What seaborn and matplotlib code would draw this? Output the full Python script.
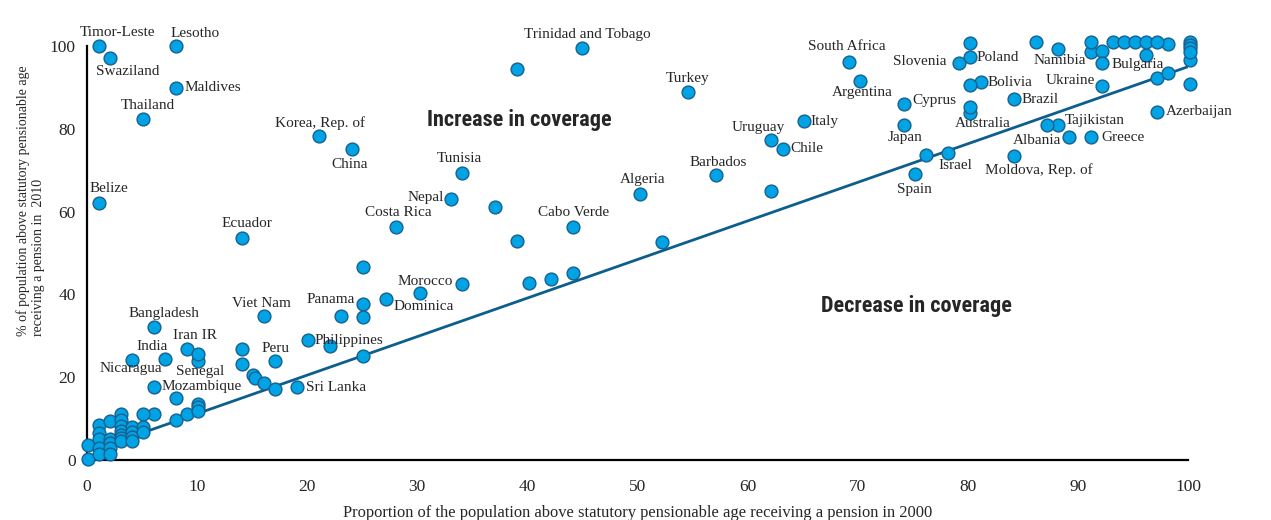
import matplotlib
matplotlib.use("Agg")
import matplotlib.pyplot as plt
import seaborn as sns
import pandas as pd

# ---------------- data ----------------
countries = [
    "Timor-Leste", "Swaziland", "Lesotho", "Maldives", "Thailand", "Belize", "Ecuador",
    "Korea, Rep. of", "China", "Tunisia", "Nepal", "Costa Rica", "Trinidad and Tobago",
    "Turkey", "Cabo Verde", "Algeria", "Barbados", "Uruguay", "Chile", "Italy", "Morocco",
    "Dominica", "Panama", "Viet Nam", "Bangladesh", "Iran IR", "India", "Nicaragua",
    "Senegal", "Mozambique", "Peru", "Philippines", "Sri Lanka", "South Africa",
    "Argentina", "Mongolia", "Poland", "Slovenia", "Bolivia", "Cyprus", "Japan",
    "Australia", "Brazil", "Kyrgyzstan", "Namibia", "Bulgaria", "Ukraine",
    "United Kingdom", "France", "Kazakhstan", "Luxembourg", "Azerbaijan", "Tajikistan",
    "Albania", "Greece", "Moldova, Rep. of", "Israel", "Spain",
]
coverage_2000 = [
    1.1, 2.1, 8.1, 8.1, 5.1, 1.1, 14.1,
    21.1, 24.1, 34.1, 33.1, 28.1, 45.0,
    54.6, 44.1, 50.2, 57.1, 62.1, 63.2, 65.1, 34.1,
    30.2, 25.1, 16.1, 6.1, 9.1, 7.1, 4.1,
    10.1, 6.1, 17.1, 20.1, 19.1, 69.2,
    70.2, 80.2, 80.2, 79.2, 81.2, 74.2, 74.2,
    80.2, 84.2, 86.2, 88.2, 96.2, 92.2,
    98.2, 100.2, 100.2, 100.2, 97.2, 88.2,
    89.2, 91.2, 84.2, 78.2, 75.2,
]
coverage_2010 = [
    100.0, 97.1, 100.0, 89.9, 82.4, 62.1, 53.6,
    78.3, 75.1, 69.3, 63.0, 56.3, 99.5,
    88.9, 56.3, 64.2, 68.8, 77.3, 75.2, 81.9, 42.4,
    40.4, 37.8, 34.9, 32.1, 26.7, 24.5, 24.2,
    24.0, 17.7, 24.0, 29.0, 17.6, 96.2,
    91.6, 100.8, 97.3, 96.0, 91.2, 86.0, 81.0,
    83.7, 87.1, 100.9, 99.3, 97.8, 90.3,
    100.5, 101.0, 96.6, 90.8, 84.1, 81.0,
    77.9, 78.1, 73.5, 74.2, 69.0,
]

# unlabelled countries
other_2000 = [
    39.1, 37.1, 39.1, 52.2, 62.1, 27.2, 40.1, 42.1, 44.1, 25.1, 23.1, 25.1,
    10.1, 8.1, 10.1, 14.1, 14.1, 22.1, 25.1, 15.1, 15.3, 16.1, 17.1,
    8.1, 9.1, 10.1, 10.1, 6.1,
    0.05, 0.05, 1.1, 1.1, 1.1, 1.1, 1.1, 2.1, 2.1, 2.1, 2.1, 2.1,
    3.1, 3.1, 3.1, 3.1, 3.1, 3.1, 3.1, 4.1, 4.1, 4.1, 4.1, 5.1, 5.1, 5.1,
    91.2, 91.2, 92.2, 92.2, 93.2, 94.2, 95.2, 96.2, 97.2,
    100.2, 100.2, 100.2, 80.2, 80.2, 87.2, 97.2, 98.2, 76.2,
]
other_2010 = [
    94.4, 61.1, 52.9, 52.7, 65.0, 39.0, 42.7, 43.8, 45.2, 34.5, 34.9, 46.7,
    25.7, 14.9, 13.6, 26.9, 23.3, 27.5, 25.1, 20.5, 19.8, 18.5, 17.1,
    9.6, 11.0, 12.7, 11.9, 11.2,
    0.3, 3.6, 8.5, 6.5, 5.0, 3.0, 1.5, 9.3, 5.0, 4.0, 2.8, 1.5,
    11.1, 9.7, 8.1, 6.9, 6.1, 5.3, 4.5, 8.0, 6.8, 5.6, 4.6, 11.1, 8.0, 6.8,
    98.6, 101.0, 98.9, 96.0, 100.9, 100.9, 100.9, 100.9, 100.9,
    100.2, 99.4, 98.6, 90.6, 85.2, 80.8, 92.2, 93.4, 73.7,
]

trend_x = [1, 100]
trend_y = [2.8, 95.0]

x_ticks = [0, 10, 20, 30, 40, 50, 60, 70, 80, 90, 100]
y_ticks = [0, 20, 40, 60, 80, 100]

# ---------------- label layout (pixel offsets, ha) ----------------
label_layout = {
    "Timor-Leste": (18, 14, "center"), "Swaziland": (18, -13, "center"),
    "Lesotho": (19, 13, "center"), "Maldives": (8, 0, "left"),
    "Thailand": (5, 13, "center"), "Belize": (10, 14, "center"),
    "Ecuador": (5, 15, "center"), "Korea, Rep. of": (1, 13, "center"),
    "China": (-3, -15, "center"), "Tunisia": (-3, 15, "center"),
    "Nepal": (-8, 2, "right"), "Costa Rica": (2, 14, "center"),
    "Trinidad and Tobago": (5, 14, "center"), "Turkey": (-1, 13, "center"),
    "Cabo Verde": (1, 14, "center"), "Algeria": (3, 15, "center"),
    "Barbados": (3, 13, "center"), "Uruguay": (-12, 12, "center"),
    "Chile": (8, 0, "left"), "Italy": (7, -1, "left"),
    "Morocco": (-10, 3, "right"), "Dominica": (4, -14, "center"),
    "Panama": (-8, 4, "right"), "Viet Nam": (-3, 12, "center"),
    "Bangladesh": (10, 14, "center"), "Iran IR": (8, 14, "center"),
    "India": (-13, 12, "center"), "Nicaragua": (-1, -9, "center"),
    "Senegal": (2, -11, "center"), "Mozambique": (7, 0, "left"),
    "Peru": (0, 12, "center"), "Philippines": (6, -1, "left"),
    "Sri Lanka": (9, 0, "left"), "South Africa": (-2, 15, "center"),
    "Argentina": (2, -12, "center"), "Mongolia": (3, 15, "center"),
    "Poland": (7, 0, "left"), "Slovenia": (-12, 1, "right"),
    "Bolivia": (7, 0, "left"), "Cyprus": (8, 3, "left"),
    "Japan": (1, -13, "center"), "Australia": (13, -10, "center"),
    "Brazil": (7, 0, "left"), "Kyrgyzstan": (17, 13, "center"),
    "Namibia": (2, -12, "center"), "Bulgaria": (-8, -9, "center"),
    "Ukraine": (-7, 6, "right"), "France": (8, 1, "left"),
    "Kazakhstan": (7, 0, "left"), "Luxembourg": (17, -12, "center"),
    "Azerbaijan": (9, 0, "left"), "Tajikistan": (7, 4, "left"),
    "Albania": (-8, -3, "right"), "Greece": (10, -1, "left"),
    "Moldova, Rep. of": (25, -14, "center"), "Israel": (7, -13, "center"),
    "Spain": (-1, -15, "center"),
}

DOT_FACE = "#00A3E4"
DOT_EDGE = "#17608F"
LINE_COL = "#0C5F8D"
LABEL_SIZE = 11

sns.set_style("white")
plt.rcParams["font.family"] = ["Liberation Serif", "DejaVu Serif"]

fig = plt.figure(figsize=(12.71, 5.2), dpi=100)
ax = fig.add_axes([87 / 1271, 1 - 460 / 520, 1101 / 1271, 414 / 520])

df = pd.DataFrame({
    "x": coverage_2000 + other_2000,
    "y": coverage_2010 + other_2010,
})

sns.lineplot(x=trend_x, y=trend_y, color=LINE_COL, linewidth=2.0, ax=ax, zorder=2)
sns.scatterplot(data=df, x="x", y="y", s=85, color=DOT_FACE, edgecolor=DOT_EDGE,
                linewidth=1.0, ax=ax, clip_on=False, zorder=3)

for name, xv, yv in zip(countries, coverage_2000, coverage_2010):
    if name == "United Kingdom":
        ax.annotate(name, (xv, yv), xytext=(7, 24), textcoords="offset pixels",
                    ha="center", va="center", fontsize=LABEL_SIZE,
                    arrowprops=dict(arrowstyle="-", color="black", lw=1,
                                    shrinkA=4, shrinkB=5,
                                    relpos=(0.43, 0.0)), zorder=5)
        continue
    dx, dy, ha = label_layout[name]
    ax.annotate(name, (xv, yv), xytext=(dx, dy), textcoords="offset pixels",
                ha=ha, va="center", fontsize=LABEL_SIZE, zorder=5)

region_font = ["Roboto Condensed", "DejaVu Sans"]
for txt, xv, yv in [("Increase in coverage", 39.3, 82.1),
                    ("Decrease in coverage", 75.3, 37.2)]:
    ax.text(xv, yv, txt, ha="center", va="center", fontsize=16,
            fontweight="bold", family=region_font, fontstretch="condensed")

ax.set_xlim(0, 100)
ax.set_ylim(0, 100)
ax.set_xticks(x_ticks)
ax.set_yticks(y_ticks)
ax.tick_params(axis="x", length=0, pad=14, labelsize=12.5)
ax.tick_params(axis="y", length=0, pad=8, labelsize=12.5)
for s in ["top", "right"]:
    ax.spines[s].set_visible(False)
for s in ["left", "bottom"]:
    ax.spines[s].set_color("black")
    ax.spines[s].set_linewidth(1.6)

ax.set_xlabel("Proportion of the population above statutory pensionable age receiving a pension in 2000",
              fontsize=11.9)
ax.xaxis.set_label_coords(0.5, -0.108)
ax.set_ylabel("% of population above statutory pensionable age\nreceiving a pension in  2010",
              fontsize=10, multialignment="left")
ax.yaxis.set_label_coords(-0.038, 0.626)

fig.savefig("out.png", dpi=100)
